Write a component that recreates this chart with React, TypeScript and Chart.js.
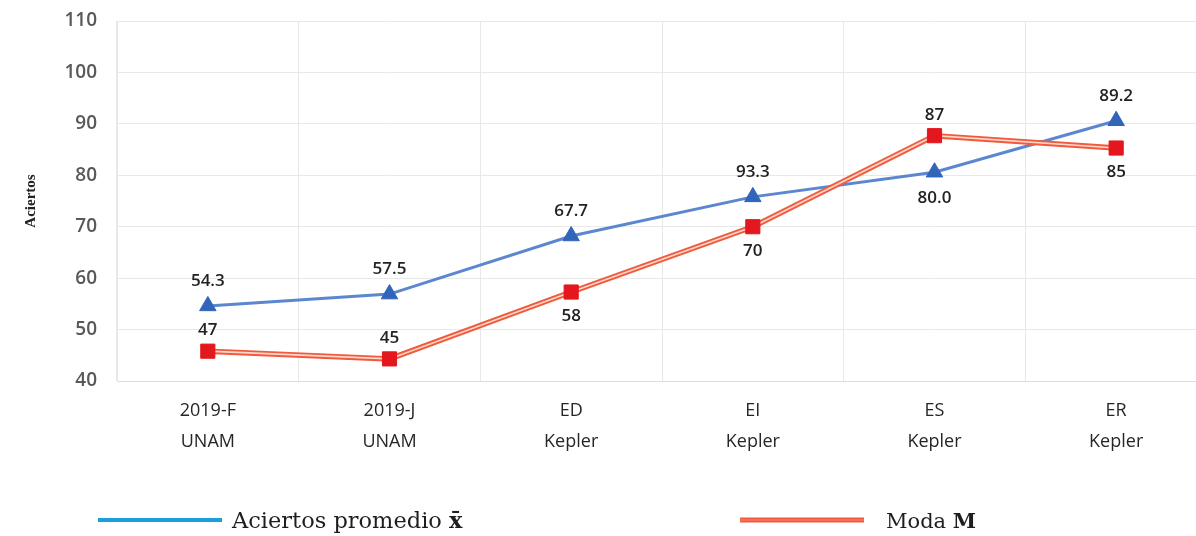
import React, { useEffect, useRef } from 'react';
import { Chart, registerables } from 'chart.js';

Chart.register(...registerables);

const categories: string[][] = [
  ['2019-F', 'UNAM'],
  ['2019-J', 'UNAM'],
  ['ED', 'Kepler'],
  ['EI', 'Kepler'],
  ['ES', 'Kepler'],
  ['ER', 'Kepler'],
];
const meanValues = [54.6, 56.9, 68.2, 75.8, 80.6, 90.6];
const meanLabels = ['54.3', '57.5', '67.7', '93.3', '80.0', '89.2'];
const meanLabelPlacement = ['above', 'above', 'above', 'above', 'below', 'above'];
const modeValues = [45.8, 44.3, 57.3, 70, 87.7, 85.3];
const modeLabels = ['47', '45', '58', '70', '87', '85'];
const modeLabelPlacement = ['above', 'above', 'below', 'below', 'above', 'below'];
const yMin = 40;
const yMax = 110;
const yStep = 10;
const yTitle = 'Aciertos';
const legendMeanText = 'Aciertos promedio ';
const legendMeanSymbol = 'x\u0304';
const legendModeText = 'Moda ';
const legendModeSymbol = 'M';

const BLUE_LINE = '#5B87D0';
const BLUE_MARK = '#3165BA';
const RED_LINE = '#EF5B3E';
const RED_INNER = '#FFD6C8';
const RED_MARK = '#E3171D';

const labelsPlugin = {
  id: 'dataLabels',
  afterDatasetsDraw(chart: any) {
    const ctx = chart.ctx;
    ctx.save();
    ctx.font = '600 17px "Open Sans"';
    ctx.fillStyle = '#222222';
    ctx.textAlign = 'center';
    ctx.textBaseline = 'middle';
    const draw = (dsIndex: number, texts: string[], places: string[], offA: number, offB: number) => {
      const meta = chart.getDatasetMeta(dsIndex);
      meta.data.forEach((pt: any, i: number) => {
        const dy = places[i] === 'above' ? -offA : offB;
        ctx.fillText(texts[i], pt.x, pt.y + dy);
      });
    };
    draw(3, meanLabels, meanLabelPlacement, 25, 26);
    draw(0, modeLabels, modeLabelPlacement, 21, 24);
    ctx.restore();
  },
};

const legendPlugin = {
  id: 'customLegend',
  afterDraw(chart: any) {
    const ctx = chart.ctx;
    ctx.save();
    const y = 520;
    ctx.lineCap = 'butt';
    ctx.strokeStyle = '#1B9FDB';
    ctx.lineWidth = 4;
    ctx.beginPath();
    ctx.moveTo(98, y);
    ctx.lineTo(222, y);
    ctx.stroke();
    ctx.strokeStyle = RED_LINE;
    ctx.lineWidth = 5;
    ctx.beginPath();
    ctx.moveTo(740, y);
    ctx.lineTo(864, y);
    ctx.stroke();
    ctx.strokeStyle = 'rgba(255,160,140,0.6)';
    ctx.lineWidth = 1;
    ctx.beginPath();
    ctx.moveTo(740, y);
    ctx.lineTo(864, y);
    ctx.stroke();

    ctx.fillStyle = '#1e1e1e';
    ctx.textAlign = 'left';
    ctx.textBaseline = 'alphabetic';
    const base = 528;
    ctx.font = '22.5px "DejaVu Serif"';
    ctx.fillText(legendMeanText, 232, base);
    let w = ctx.measureText(legendMeanText).width;
    ctx.font = 'bold 22.5px "DejaVu Serif"';
    ctx.fillText(legendMeanSymbol, 232 + w, base);

    ctx.font = '21px "DejaVu Serif"';
    ctx.fillText(legendModeText, 886, base);
    w = ctx.measureText(legendModeText).width;
    ctx.font = 'bold 21px "DejaVu Serif"';
    ctx.fillText(legendModeSymbol, 886 + w, base);
    ctx.restore();
  },
};

export default function App() {
  const ref = useRef<HTMLCanvasElement | null>(null);

  useEffect(() => {
    if (!ref.current) return;
    const chart = new Chart(ref.current, {
      type: 'line',
      data: {
        labels: categories,
        datasets: [
          {
            label: 'Moda M (puntos)',
            data: modeValues,
            showLine: false,
            pointStyle: 'rect',
            pointRadius: 10,
            pointBackgroundColor: RED_MARK,
            pointBorderColor: RED_MARK,
            pointBorderWidth: 1,
            borderColor: RED_MARK,
            backgroundColor: RED_MARK,
          },
          {
            label: 'Moda M (interior)',
            data: modeValues,
            borderColor: RED_INNER,
            borderWidth: 1.6,
            pointRadius: 0,
            fill: false,
          },
          {
            label: 'Moda M',
            data: modeValues,
            borderColor: RED_LINE,
            borderWidth: 5.5,
            pointRadius: 0,
            fill: false,
          },
          {
            label: 'Aciertos promedio',
            data: meanValues,
            borderColor: BLUE_LINE,
            borderWidth: 3,
            pointStyle: 'triangle',
            pointRadius: 9.5,
            pointBackgroundColor: BLUE_MARK,
            pointBorderColor: BLUE_MARK,
            pointBorderWidth: 1,
            fill: false,
          },
        ],
      },
      options: {
        animation: false,
        responsive: false,
        devicePixelRatio: 1,
        layout: { padding: { top: 21, right: 0, bottom: 0, left: 0 } },
        plugins: {
          legend: { display: false },
          tooltip: { enabled: false },
        },
        scales: {
          x: {
            offset: true,
            grid: { offset: true, color: '#e8e8e8', drawTicks: false },
            border: { color: '#dddddd' },
            ticks: {
              color: '#262626',
              font: { family: '"Open Sans"', size: 18, lineHeight: 1.7 },
              padding: 15,
              maxRotation: 0,
              autoSkip: false,
            },
            afterFit: (scale: any) => {
              scale.height = 155;
            },
          },
          y: {
            min: yMin,
            max: yMax,
            grid: { color: '#e8e8e8', drawTicks: true, tickLength: 16, tickColor: 'rgba(0,0,0,0)' },
            border: { color: '#e8e8e8' },
            ticks: {
              stepSize: yStep,
              color: '#595959',
              font: { family: '"Open Sans"', size: 19, weight: '600' },
              padding: 4,
            },
            title: {
              display: true,
              text: yTitle,
              color: '#222222',
              font: { family: '"Liberation Serif"', size: 15, weight: 'bold' },
              padding: { top: 22, bottom: 0 },
            },
            afterFit: (scale: any) => {
              scale.width = 117;
            },
          },
        },
      },
      plugins: [labelsPlugin, legendPlugin],
    });
    return () => chart.destroy();
  }, []);

  return (
    <div style={{ position: 'fixed', left: 0, top: 0, width: 1196, height: 536, overflow: 'hidden', background: '#fff' }}>
      <canvas ref={ref} width={1218} height={536} style={{ width: 1218, height: 536, display: 'block' }} />
    </div>
  );
}
